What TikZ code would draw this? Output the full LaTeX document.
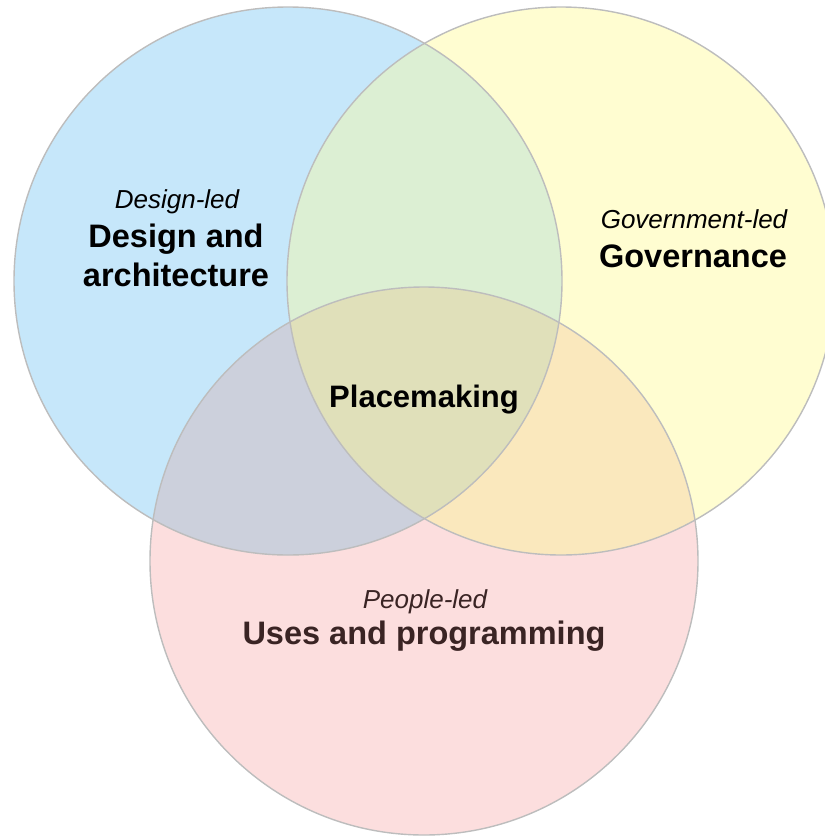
\documentclass[tikz,border=0pt]{standalone}
\usepackage{fontspec}
\setmainfont{Liberation Sans}
\definecolor{cblue}{HTML}{C6E7FA}
\definecolor{cyellow}{HTML}{FFFDD1}
\definecolor{cpink}{HTML}{FCDEDE}
\definecolor{cby}{HTML}{DCEFD3}
\definecolor{cbp}{HTML}{CCD0DC}
\definecolor{cyp}{HTML}{FAE8BD}
\definecolor{call}{HTML}{E0E0BA}
\definecolor{cline}{HTML}{BDBDBD}
\definecolor{ctxtb}{HTML}{3A2424}
\tikzset{
  ring/.style={draw=cline, line width=1.4pt},
  ledlabel/.style={anchor=base, inner sep=0pt, font=\fontsize{26}{30}\selectfont\itshape},
  mainlabel/.style={anchor=base, inner sep=0pt, font=\fontsize{32.5}{36}\selectfont\bfseries},
}
\begin{document}
\begin{tikzpicture}[x=1pt,y=-1pt]
\useasboundingbox (0,0) rectangle (825,836);
\begin{scope}
\clip (0,0) rectangle (825,836);
\coordinate (cb) at (288,281);
\coordinate (cy) at (561,281);
\coordinate (cp) at (424,561);
\fill[cblue] (cb) circle[radius=274pt];
\fill[cyellow] (cy) circle[radius=274pt];
\fill[cpink] (cp) circle[radius=274pt];
\begin{scope}
  \clip (cb) circle[radius=274pt];
  \fill[cby] (cy) circle[radius=274pt];
  \fill[cbp] (cp) circle[radius=274pt];
  \clip (cy) circle[radius=274pt];
  \fill[call] (cp) circle[radius=274pt];
\end{scope}
\begin{scope}
  \clip (cy) circle[radius=274pt];
  \clip (cp) circle[radius=274pt];
  \fill[cyp] (cp) circle[radius=274pt];
  \clip (cb) circle[radius=274pt];
  \fill[call] (cp) circle[radius=274pt];
\end{scope}
\draw[ring] (cb) circle[radius=274pt];
\draw[ring] (cy) circle[radius=274pt];
\draw[ring] (cp) circle[radius=274pt];
\end{scope}
\node[ledlabel] (dl) at (177,208) {Design-led};
\node[mainlabel] (da1) at (176,247) {Design and};
\node[mainlabel] (da2) at (176,286) {architecture};
\node[ledlabel] (gl) at (694,228) {Government-led};
\node[mainlabel] (gv) at (693,267) {Governance};
\node[mainlabel, font=\fontsize{31}{34}\selectfont\bfseries] (pm) at (424,407) {Placemaking};
\node[ledlabel, text=ctxtb] (pl) at (425,608) {People-led};
\node[mainlabel, text=ctxtb] (up) at (424,644) {Uses and programming};
\end{tikzpicture}
\end{document}
